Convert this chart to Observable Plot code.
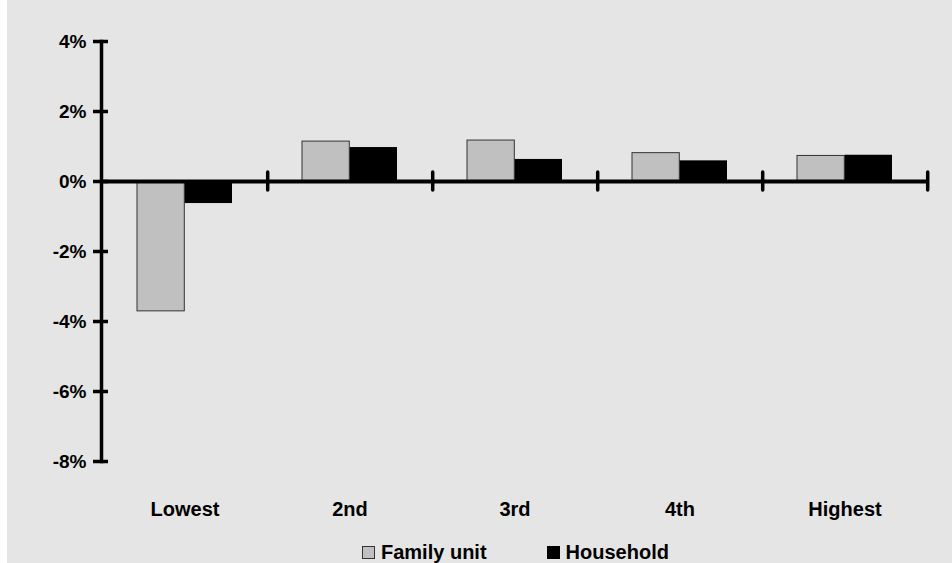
<!DOCTYPE html>
<html>
<head>
<meta charset="utf-8">
<script src="https://cdn.jsdelivr.net/npm/d3@7"></script>
<script src="https://cdn.jsdelivr.net/npm/@observablehq/plot@0.6"></script>
<style>
  html, body { margin: 0; padding: 0; background: #ffffff; }
  #wrap { position: absolute; left: 7px; top: 0; width: 945px; height: 563px; background: #e5e5e5; overflow: hidden;
          font-family: "Liberation Sans", Arial, sans-serif; }
  #chart svg { display: block; background: transparent; }
  #legend { position: absolute; left: 355px; top: 541px; display: flex; align-items: center;
            font: bold 20px "Liberation Sans", Arial, sans-serif; color: #000; }
  .item { display: flex; align-items: center; }
  .sw { width: 13px; height: 13px; margin-right: 6px; box-sizing: border-box; }
</style>
</head>
<body>
<div id="wrap">
  <div id="chart"></div>
  <div id="legend"></div>
</div>
<script>
const categories = ["Lowest", "2nd", "3rd", "4th", "Highest"];
const familyUnit = [-3.71, 1.14, 1.17, 0.81, 0.73];
const household = [-0.63, 0.97, 0.63, 0.59, 0.75];
const seriesNames = ["Family unit", "Household"];
const yTicks = [-8, -6, -4, -2, 0, 2, 4];

const famData = categories.map((c, i) => ({cat: c, value: familyUnit[i]}));
const hhData = categories.map((c, i) => ({cat: c, value: household[i]}));

const W = 945, H = 532;
const mL = 94, mR = 24, mT = 41, mB = 71;
const band = (W - mL - mR) / categories.length;
const outer = 35, inner = band / 2;

const plot = Plot.plot({
  width: W,
  height: H,
  marginLeft: mL,
  marginRight: mR,
  marginTop: mT,
  marginBottom: mB,
  style: {background: "transparent", fontFamily: "Liberation Sans, Arial, sans-serif", color: "#000"},
  x: {domain: categories, padding: 0, axis: null},
  y: {domain: [-8, 4], axis: null},
  marks: [
    Plot.barY(famData, {x: "cat", y: "value", fill: "#c0c0c0", stroke: "#333333", strokeWidth: 1,
      insetLeft: outer, insetRight: band - inner}),
    Plot.barY(hhData, {x: "cat", y: "value", fill: "#000000",
      insetLeft: inner, insetRight: outer}),
    Plot.ruleY([0], {stroke: "#000", strokeWidth: 4}),
    Plot.ruleX(categories, {x: d => d, dx: band / 2, y1: -0.26, y2: 0.26, stroke: "#000", strokeWidth: 3.5, strokeLinecap: "round"}),
    Plot.frame({anchor: "left", stroke: "#000", strokeWidth: 3.5}),
    Plot.axisY({ticks: yTicks, tickFormat: d => d + "%", tickSize: 15, tickPadding: 7, dx: 7,
      strokeWidth: 3.5, fontSize: 19, fontWeight: "bold", label: null}),
    Plot.axisX({tickSize: 0, tickPadding: 40, fontSize: 20, fontWeight: "bold", label: null})
  ]
});
document.getElementById("chart").appendChild(plot);

const legendStyles = [
  {fill: "#c0c0c0", border: "1px solid #333"},
  {fill: "#000000", border: "none"}
];
const legend = document.getElementById("legend");
seriesNames.forEach((name, i) => {
  const item = document.createElement("div");
  item.className = "item";
  if (i > 0) item.style.marginLeft = "60px";
  const sw = document.createElement("span");
  sw.className = "sw";
  sw.style.background = legendStyles[i].fill;
  sw.style.border = legendStyles[i].border;
  const t = document.createElement("span");
  t.textContent = name;
  item.appendChild(sw); item.appendChild(t);
  legend.appendChild(item);
});
</script>
</body>
</html>
